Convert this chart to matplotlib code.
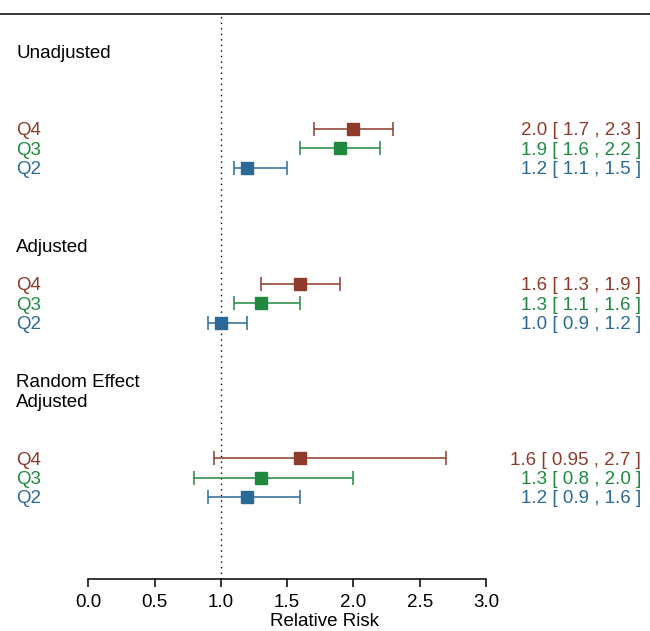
import matplotlib
matplotlib.use("Agg")
import matplotlib.pyplot as plt
import numpy as np

plt.rcParams['font.family'] = ['Liberation Sans', 'DejaVu Sans']

# groups of estimates (top to bottom)
headers = ["Unadjusted", "Adjusted", "Random Effect\nAdjusted"]
quartiles = ["Q4", "Q3", "Q2"]
est = [[2.0, 1.9, 1.2],
       [1.6, 1.3, 1.0],
       [1.6, 1.3, 1.2]]
lower = [[1.7, 1.6, 1.1],
         [1.3, 1.1, 0.9],
         [0.95, 0.8, 0.9]]
upper = [[2.3, 2.2, 1.5],
         [1.9, 1.6, 1.2],
         [2.7, 2.0, 1.6]]
xticks = [0.0, 0.5, 1.0, 1.5, 2.0, 2.5, 3.0]

colors = {"Q4": "#8E3B2B", "Q3": "#1F8A3F", "Q2": "#2C6A96"}

# row layout (row index per line)
header_rows = [27, 17, 9.5]
q4_rows = [23, 15, 6]

fs = 13.5
dy = 0.1  # nudge text down a little


def fmt(v):
    return f"{v:.2f}" if round(v, 1) != v else f"{v:.1f}"


fig = plt.figure(figsize=(6.5, 6.31), dpi=100)
ax = fig.add_axes([0, (631 - 579) / 631, 1, (579 - 14) / 631])

px = 132.57
ax.set_xlim(-88.3 / px, (650 - 88.3) / px)
ax.set_ylim(-0.23, 28.93)

ax.axvline(1.0, color="black", linestyle=(0, (1, 3)), linewidth=1.0)

x_left = (16 - 88.3) / px
x_right = (641 - 88.3) / px

for g in range(3):
    ax.text(x_left, header_rows[g] - dy, headers[g], fontsize=fs, ha="left",
            va="center", linespacing=1.2)
    for i, q in enumerate(quartiles):
        y = q4_rows[g] - i
        c = colors[q]
        ax.errorbar(est[g][i], y,
                    xerr=[[est[g][i] - lower[g][i]], [upper[g][i] - est[g][i]]],
                    fmt="s", color=c, ecolor=c, markersize=9.3, elinewidth=1.1,
                    capsize=4.7, capthick=1.1)
        ax.text(x_left, y - dy, q, fontsize=fs, color=c, ha="left", va="center")
        lab = f"{fmt(est[g][i])} [ {fmt(lower[g][i])} , {fmt(upper[g][i])} ]"
        ax.text(x_right, y - dy, lab, fontsize=fs, color=c, ha="right", va="center")

for s in ["left", "right"]:
    ax.spines[s].set_visible(False)
ax.spines["top"].set_linewidth(1.1)
ax.spines["bottom"].set_bounds(0, 3)
ax.spines["bottom"].set_linewidth(1.1)
ax.set_yticks([])
ax.set_xticks(xticks)
ax.set_xticklabels([f"{t:.1f}" for t in xticks], fontsize=fs)
ax.tick_params(axis="x", length=6, width=1.1, pad=5)
ax.set_xlabel("Relative Risk", fontsize=fs, labelpad=1)

fig.savefig("out.png", dpi=100)
